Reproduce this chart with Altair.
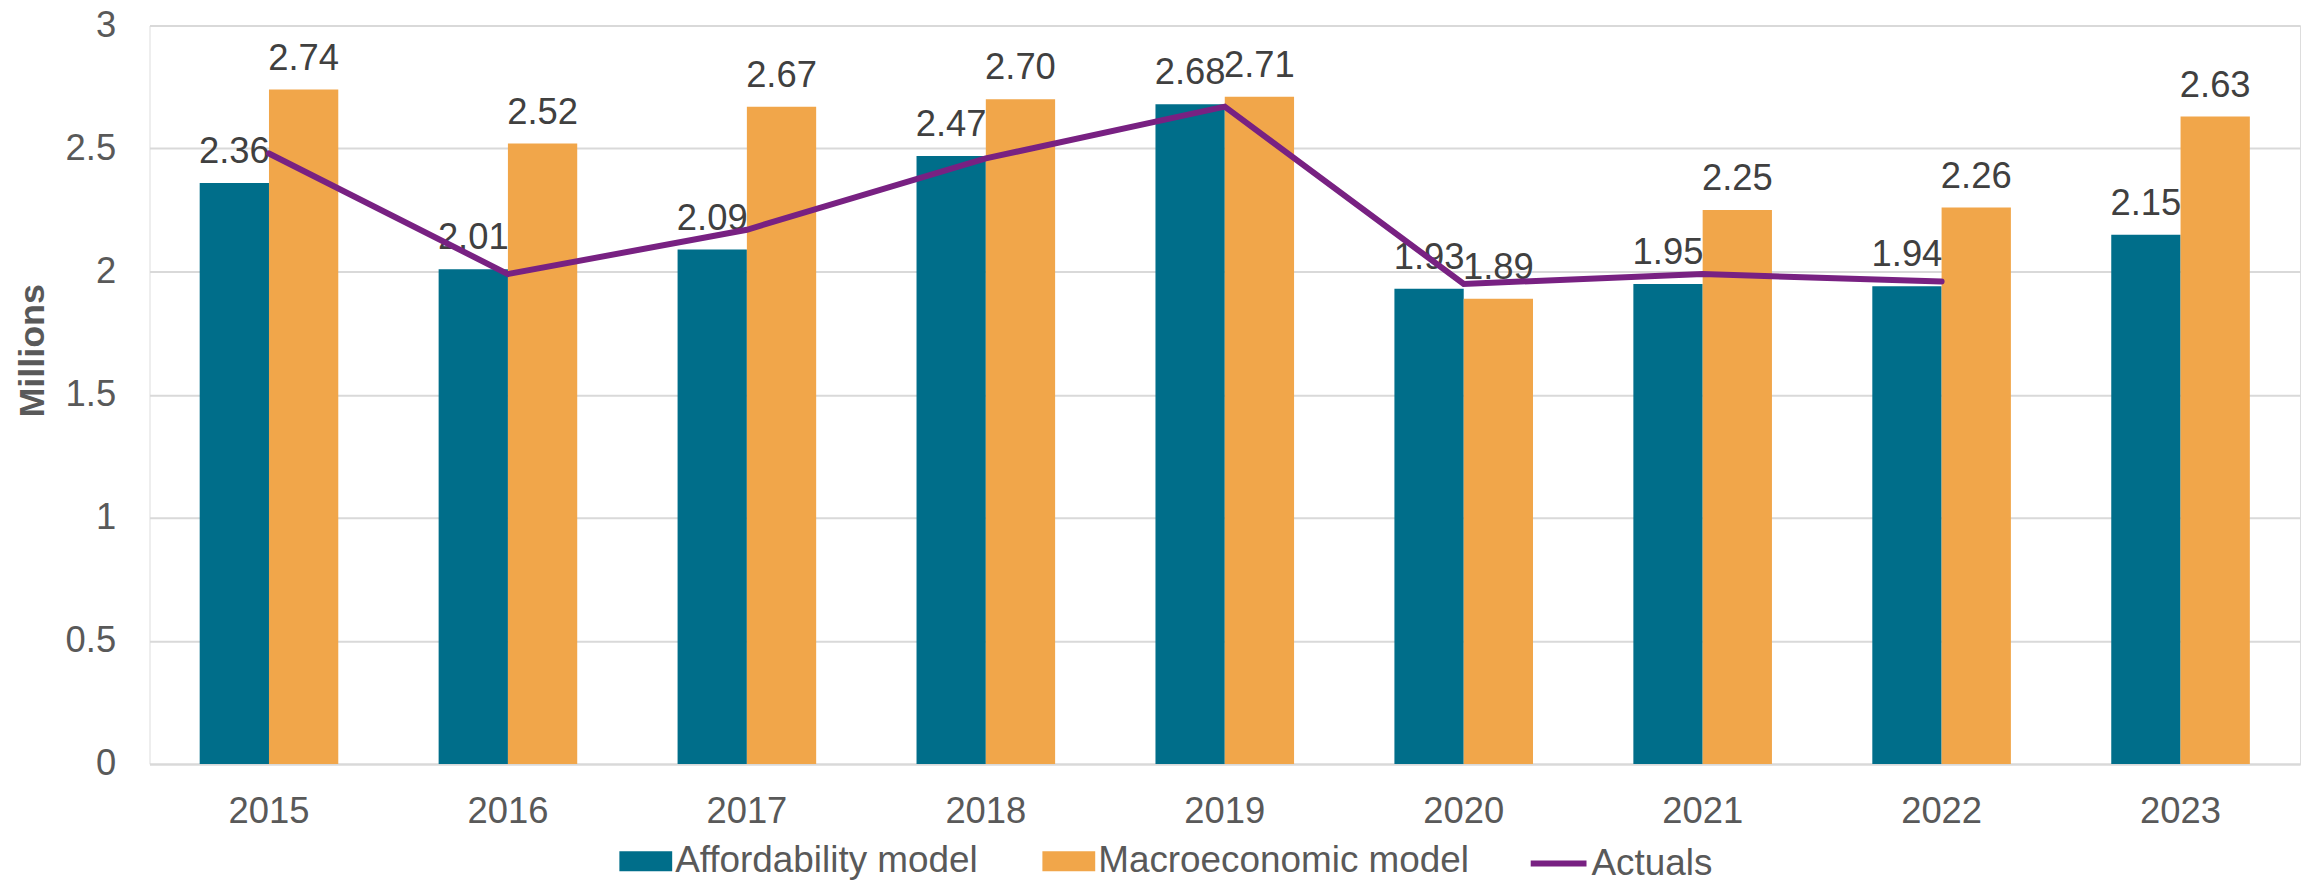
import altair as alt
import pandas as pd

FONT = "Liberation Sans"

years = ["2015", "2016", "2017", "2018", "2019", "2020", "2021", "2022", "2023"]
affordability = [2.36, 2.01, 2.09, 2.47, 2.68, 1.93, 1.95, 1.94, 2.15]
macroeconomic = [2.74, 2.52, 2.67, 2.70, 2.71, 1.89, 2.25, 2.26, 2.63]
actual_years = ["2015", "2016", "2017", "2018", "2019", "2020", "2021", "2022"]
actuals = [2.48, 1.99, 2.17, 2.46, 2.67, 1.95, 1.99, 1.96]
series_names = ["Affordability model", "Macroeconomic model"]
line_name = "Actuals"
y_ticks = [0, 0.5, 1, 1.5, 2, 2.5, 3]

TEAL = "#006E8A"
ORANGE = "#F1A64A"
PURPLE = "#782182"

bars_df = pd.DataFrame({
    "year": years + years,
    "series": [series_names[0]] * len(years) + [series_names[1]] * len(years),
    "value": affordability + macroeconomic,
})
line_df = pd.DataFrame({
    "year": actual_years,
    "line": [line_name] * len(actual_years),
    "value": actuals,
})

x_enc = alt.X(
    "year:N",
    sort=years,
    title=None,
    scale=alt.Scale(paddingInner=0.42, paddingOuter=0.21),
    axis=alt.Axis(
        labelAngle=0,
        labelFont=FONT,
        labelFontSize=36.5,
        labelColor="#595959",
        labelPadding=30,
        ticks=False,
        domainColor="#D9D9D9",
        domainWidth=2,
        grid=False,
    ),
)
y_enc = alt.Y(
    "value:Q",
    scale=alt.Scale(domain=[0, 3], nice=False),
    title="Millions",
    axis=alt.Axis(
        values=y_ticks,
        format="~g",
        labelFont=FONT,
        labelFontSize=36.5,
        labelColor="#595959",
        labelPadding=34,
        ticks=False,
        domain=False,
        gridColor="#D9D9D9",
        gridWidth=2,
        titleFont=FONT,
        titleFontSize=36,
        titleFontWeight="bold",
        titleColor="#595959",
        titleAngle=-90,
        titleX=-106,
        titleY=326,
        titleAlign="center",
        titleBaseline="alphabetic",
    ),
)
xoff = alt.XOffset("series:N", sort=series_names, scale=alt.Scale(paddingInner=0, paddingOuter=0))

bars = alt.Chart(bars_df).mark_bar().encode(
    x=x_enc,
    xOffset=xoff,
    y=y_enc,
    color=alt.Color(
        "series:N",
        sort=series_names,
        scale=alt.Scale(domain=series_names, range=[TEAL, ORANGE]),
        legend=alt.Legend(
            orient="none",
            legendX=479.5,
            legendY=820,
            direction="horizontal",
            title=None,
            symbolType="M-2.65,-1H2.65V1H-2.65Z",
            symbolSize=400,
            symbolStrokeWidth=0,
            labelOffset=11,
            columnPadding=64.5,
            labelFont=FONT,
            labelFontSize=37,
            labelColor="#595959",
            labelLimit=0,
            padding=0,
        ),
    ),
)

labels = alt.Chart(bars_df).mark_text(
    dy=-20, baseline="alphabetic", align="center", font=FONT, fontSize=36.5, color="#404040"
).encode(
    x=alt.X("year:N", sort=years),
    xOffset=xoff,
    y=alt.Y("value:Q"),
    text=alt.Text("value:Q", format=".2f"),
)

line = alt.Chart(line_df).mark_line(strokeWidth=6, strokeCap="round").encode(
    x=alt.X("year:N", sort=years),
    y=alt.Y("value:Q"),
    stroke=alt.Stroke(
        "line:N",
        scale=alt.Scale(domain=[line_name], range=[PURPLE]),
        legend=alt.Legend(
            orient="none",
            legendX=1383,
            legendY=810,
            direction="horizontal",
            title=None,
            symbolType="stroke",
            symbolSize=3136,
            symbolStrokeWidth=6,
            labelOffset=2,
            labelFont=FONT,
            labelFontSize=37,
            labelColor="#595959",
            labelLimit=0,
            padding=0,
        ),
    ),
)

chart = alt.layer(bars, labels, line).properties(
    width=2158,
    height=741,
    autosize=alt.AutoSizeParams(type="none"),
    padding={"left": 142, "top": 16, "right": 7, "bottom": 118},
).configure_view(stroke=None).configure(font=FONT)

chart.save("out.html", embed_options={"renderer": "svg", "actions": False})
